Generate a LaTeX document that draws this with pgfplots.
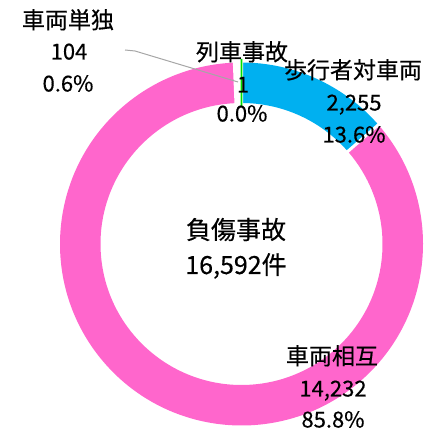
\documentclass[border=0pt]{standalone}
\usepackage{pgfplots}
\pgfplotsset{compat=1.18}
\usepackage{pgfplotstable}
\usepackage{fontspec}
\setmainfont{Noto Sans CJK JP}[FakeBold=0.4]
\definecolor{pinkc}{HTML}{FF66CC}
\definecolor{bluec}{HTML}{00B0F0}
\definecolor{greenc}{HTML}{00E000}
\definecolor{leadc}{HTML}{A6A6A6}

% order: clockwise from 12 o'clock
\pgfplotstableread{
name value
列車事故 1
歩行者対車両 2255
車両相互 14232
車両単独 104
}\datatable

\pgfplotstablegetelem{0}{value}\of\datatable \let\va\pgfplotsretval
\pgfplotstablegetelem{1}{value}\of\datatable \let\vb\pgfplotsretval
\pgfplotstablegetelem{2}{value}\of\datatable \let\vc\pgfplotsretval
\pgfplotstablegetelem{3}{value}\of\datatable \let\vd\pgfplotsretval
\pgfmathsetmacro\tot{\va/100+\vb/100+\vc/100+\vd/100}
\pgfmathsetmacro\aA{90-\va/100/\tot*360}
\pgfmathsetmacro\aB{\aA-\vb/100/\tot*360}
\pgfmathsetmacro\aC{\aB-\vc/100/\tot*360}
\pgfmathsetmacro\aD{\aC-\vd/100/\tot*360}
\pgfmathsetmacro\aG{(90+\aA)/2}

\def\cx{241.5}
\def\cy{186}
\def\Ro{181.5pt}
\def\Ri{141pt}
\newcommand\sector[3]{\fill[#1] ([shift={(#2:\Ro)}]axis cs:\cx,\cy) arc[start angle=#2,end angle=#3,radius=\Ro] -- ([shift={(#3:\Ri)}]axis cs:\cx,\cy) arc[start angle=#3,end angle=#2,radius=\Ri] -- cycle;}
\newcommand\border[2]{\draw[#2] ([shift={(#1:138pt)}]axis cs:\cx,\cy) -- ([shift={(#1:185pt)}]axis cs:\cx,\cy);}

\begin{document}
\begin{tikzpicture}
\begin{axis}[width=429pt,height=430pt,scale only axis,
  xmin=0,xmax=429,ymin=0,ymax=430,hide axis,clip=false]
\sector{greenc}{90}{\aA}
\sector{bluec}{\aA}{\aB}
\sector{pinkc}{\aB}{\aC}
\sector{white}{\aC}{\aD}
\border{90}{white,line width=3pt}
\border{\aA}{white,line width=3pt}
\border{\aB}{white,line width=3pt}
\border{\aC}{white,line width=3pt}
\border{\aG}{greenc,line width=1.8pt}
% leader line
\draw[leadc,line width=1pt] (axis cs:125,380) -- (axis cs:135,379) -- (axis cs:238,348);
% labels
\tikzset{lab/.style={font=\fontsize{22pt}{26pt}\selectfont,inner sep=0pt,anchor=center,text height=15pt,text depth=0pt},
  jlab/.style={lab,font=\fontsize{23pt}{27pt}\selectfont}}
\node[jlab] at (axis cs:68,409) {車両単独};
\node[lab] at (axis cs:69,378) {104};
\node[lab] at (axis cs:68,346) {0.6\%};
\node[jlab] at (axis cs:242,377) {列車事故};
\node[lab] at (axis cs:243,345) {1};
\node[lab] at (axis cs:242,316) {0.0\%};
\node[jlab] at (axis cs:353,359) {歩行者対車両};
\node[lab] at (axis cs:354,327) {2,255};
\node[lab] at (axis cs:354,295) {13.6\%};
\node[jlab] at (axis cs:332,73) {車両相互};
\node[lab] at (axis cs:333,41) {14,232};
\node[lab] at (axis cs:333,10) {85.8\%};
\node[lab,font=\fontsize{25pt}{30pt}\selectfont,text height=18pt] at (axis cs:236,200) {負傷事故};
\node[lab,font=\fontsize{25pt}{30pt}\selectfont,text height=18pt] at (axis cs:236,165) {16,592件};
\end{axis}
\pgfresetboundingbox
\useasboundingbox (current axis.south west) rectangle (current axis.north east);
\end{tikzpicture}
\end{document}
